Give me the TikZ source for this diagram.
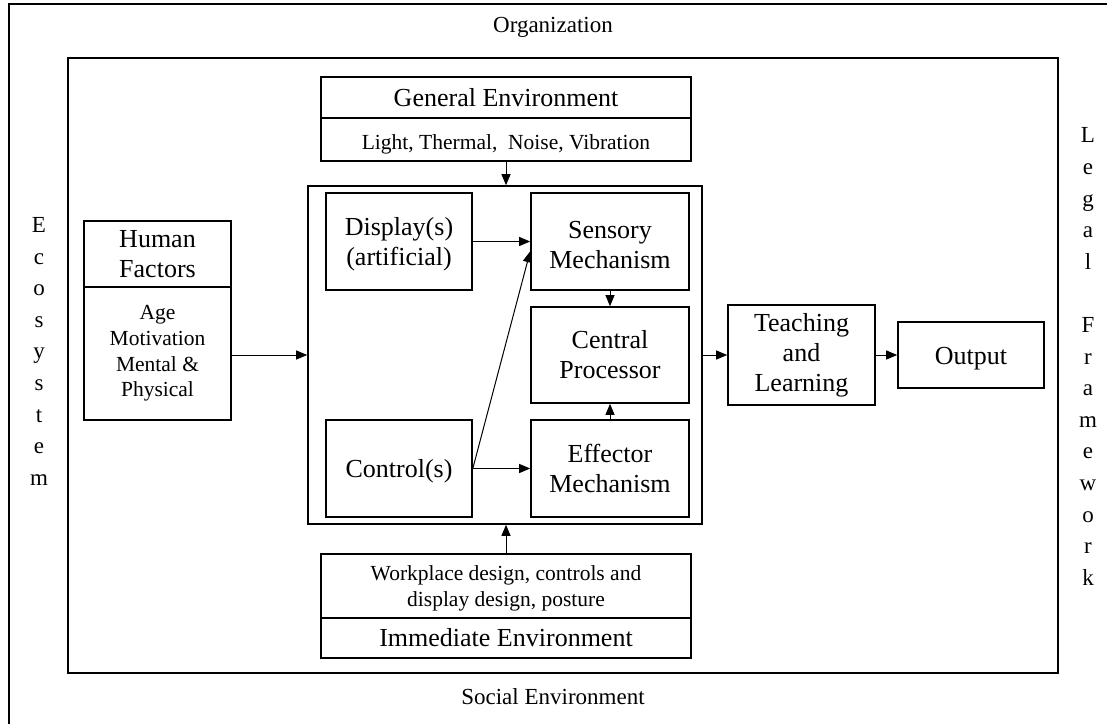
\documentclass[tikz,border=0pt]{standalone}
\usepackage{fontspec}
\setmainfont{Liberation Serif}
\usetikzlibrary{arrows.meta}

\begin{document}
\begin{tikzpicture}[x=1pt,y=-1pt,
  box/.style={draw, line width=1.6pt, inner sep=0pt, align=center, font=\fontsize{26}{30}\selectfont},
  smallbox/.style={box, font=\fontsize{21.5}{25.7}\selectfont},
  link/.style={-{Triangle[length=11pt,width=9pt]}, line width=1pt},
  side/.style={inner sep=0pt, align=center, font=\fontsize{23}{31.6}\selectfont}]
  \useasboundingbox (0,0) rectangle (1107,724);
  % frames
  \draw[line width=1.6pt] (9,724) -- (9,4) -- (1107,4);
  \draw[line width=1.6pt] (68,58) rectangle (1058,673);
  \node[side] (org) at (553,27) {Organization};
  \node[side] (social) at (553,697) {Social Environment};
  \node[side] (eco) at (39,351.4) {E\\c\\o\\s\\y\\s\\t\\e\\m};
  \node[side] (legal) at (1088,356.6) {L\\e\\g\\a\\l\\~\\F\\r\\a\\m\\e\\w\\o\\r\\k};
  % environment boxes
  \node[box, minimum width=370pt, minimum height=41pt] (gentop) at (506,97.5) {General Environment};
  \node[smallbox, minimum width=370pt, minimum height=43pt] (genbot) at (506,139.5) {\rule{0pt}{24pt}Light, Thermal,~ Noise, Vibration};
  \node[smallbox, minimum width=370pt, minimum height=64pt] (immtop) at (506,586) {\rule{0pt}{20pt}Workplace design, controls and\\display design, posture};
  \node[box, minimum width=370pt, minimum height=40pt] (immbot) at (506,638) {Immediate Environment};
  \node[box, minimum width=147pt, minimum height=66pt] (humtop) at (157.5,254) {Human\\Factors};
  \node[smallbox, minimum width=147pt, minimum height=133pt] (humbot) at (157.5,353.5) {Age\\Motivation\\Mental \&\\Physical};
  % system
  \node[box, minimum width=394pt, minimum height=338pt] (sys) at (505,355) {};
  \node[box, minimum width=146pt, minimum height=97pt] (disp) at (399,241.5) {\rule{0pt}{24pt}Display(s)\\(artificial)};
  \node[box, minimum width=146pt, minimum height=97pt] (ctrl) at (399,468.5) {\rule{0pt}{24pt}Control(s)};
  \node[box, minimum width=158pt, minimum height=97pt] (sens) at (610,241.5) {\rule{0pt}{24pt}Sensory\\Mechanism};
  \node[box, minimum width=158pt, minimum height=96pt] (cent) at (610,355) {Central\\Processor};
  \node[box, minimum width=158pt, minimum height=97pt] (eff) at (610,468.5) {Effector\\Mechanism};
  \node[box, minimum width=147pt, minimum height=100pt] (teach) at (801.5,355) {Teaching\\and\\Learning};
  \node[box, minimum width=146pt, minimum height=66pt] (out) at (971,355) {\rule{0pt}{24pt}Output};
  % arrows
  \draw[link] (genbot.south) -- (genbot.south |- sys.north);
  \draw[link] (immtop.north) -- (immtop.north |- sys.south);
  \draw[link] (humbot.east |- sys.west) -- (sys.west);
  \draw[link] (sys.east) -- (teach.west);
  \draw[link] (teach.east) -- (out.west);
  \draw[link] (disp.east) -- (sens.west);
  \draw[link] (ctrl.east) -- (eff.west);
  \draw[link] (ctrl.east) -- (sens.187);
  \draw[link] (sens.south) -- (cent.north);
  \draw[link] (eff.north) -- (cent.south);
\end{tikzpicture}
\end{document}
